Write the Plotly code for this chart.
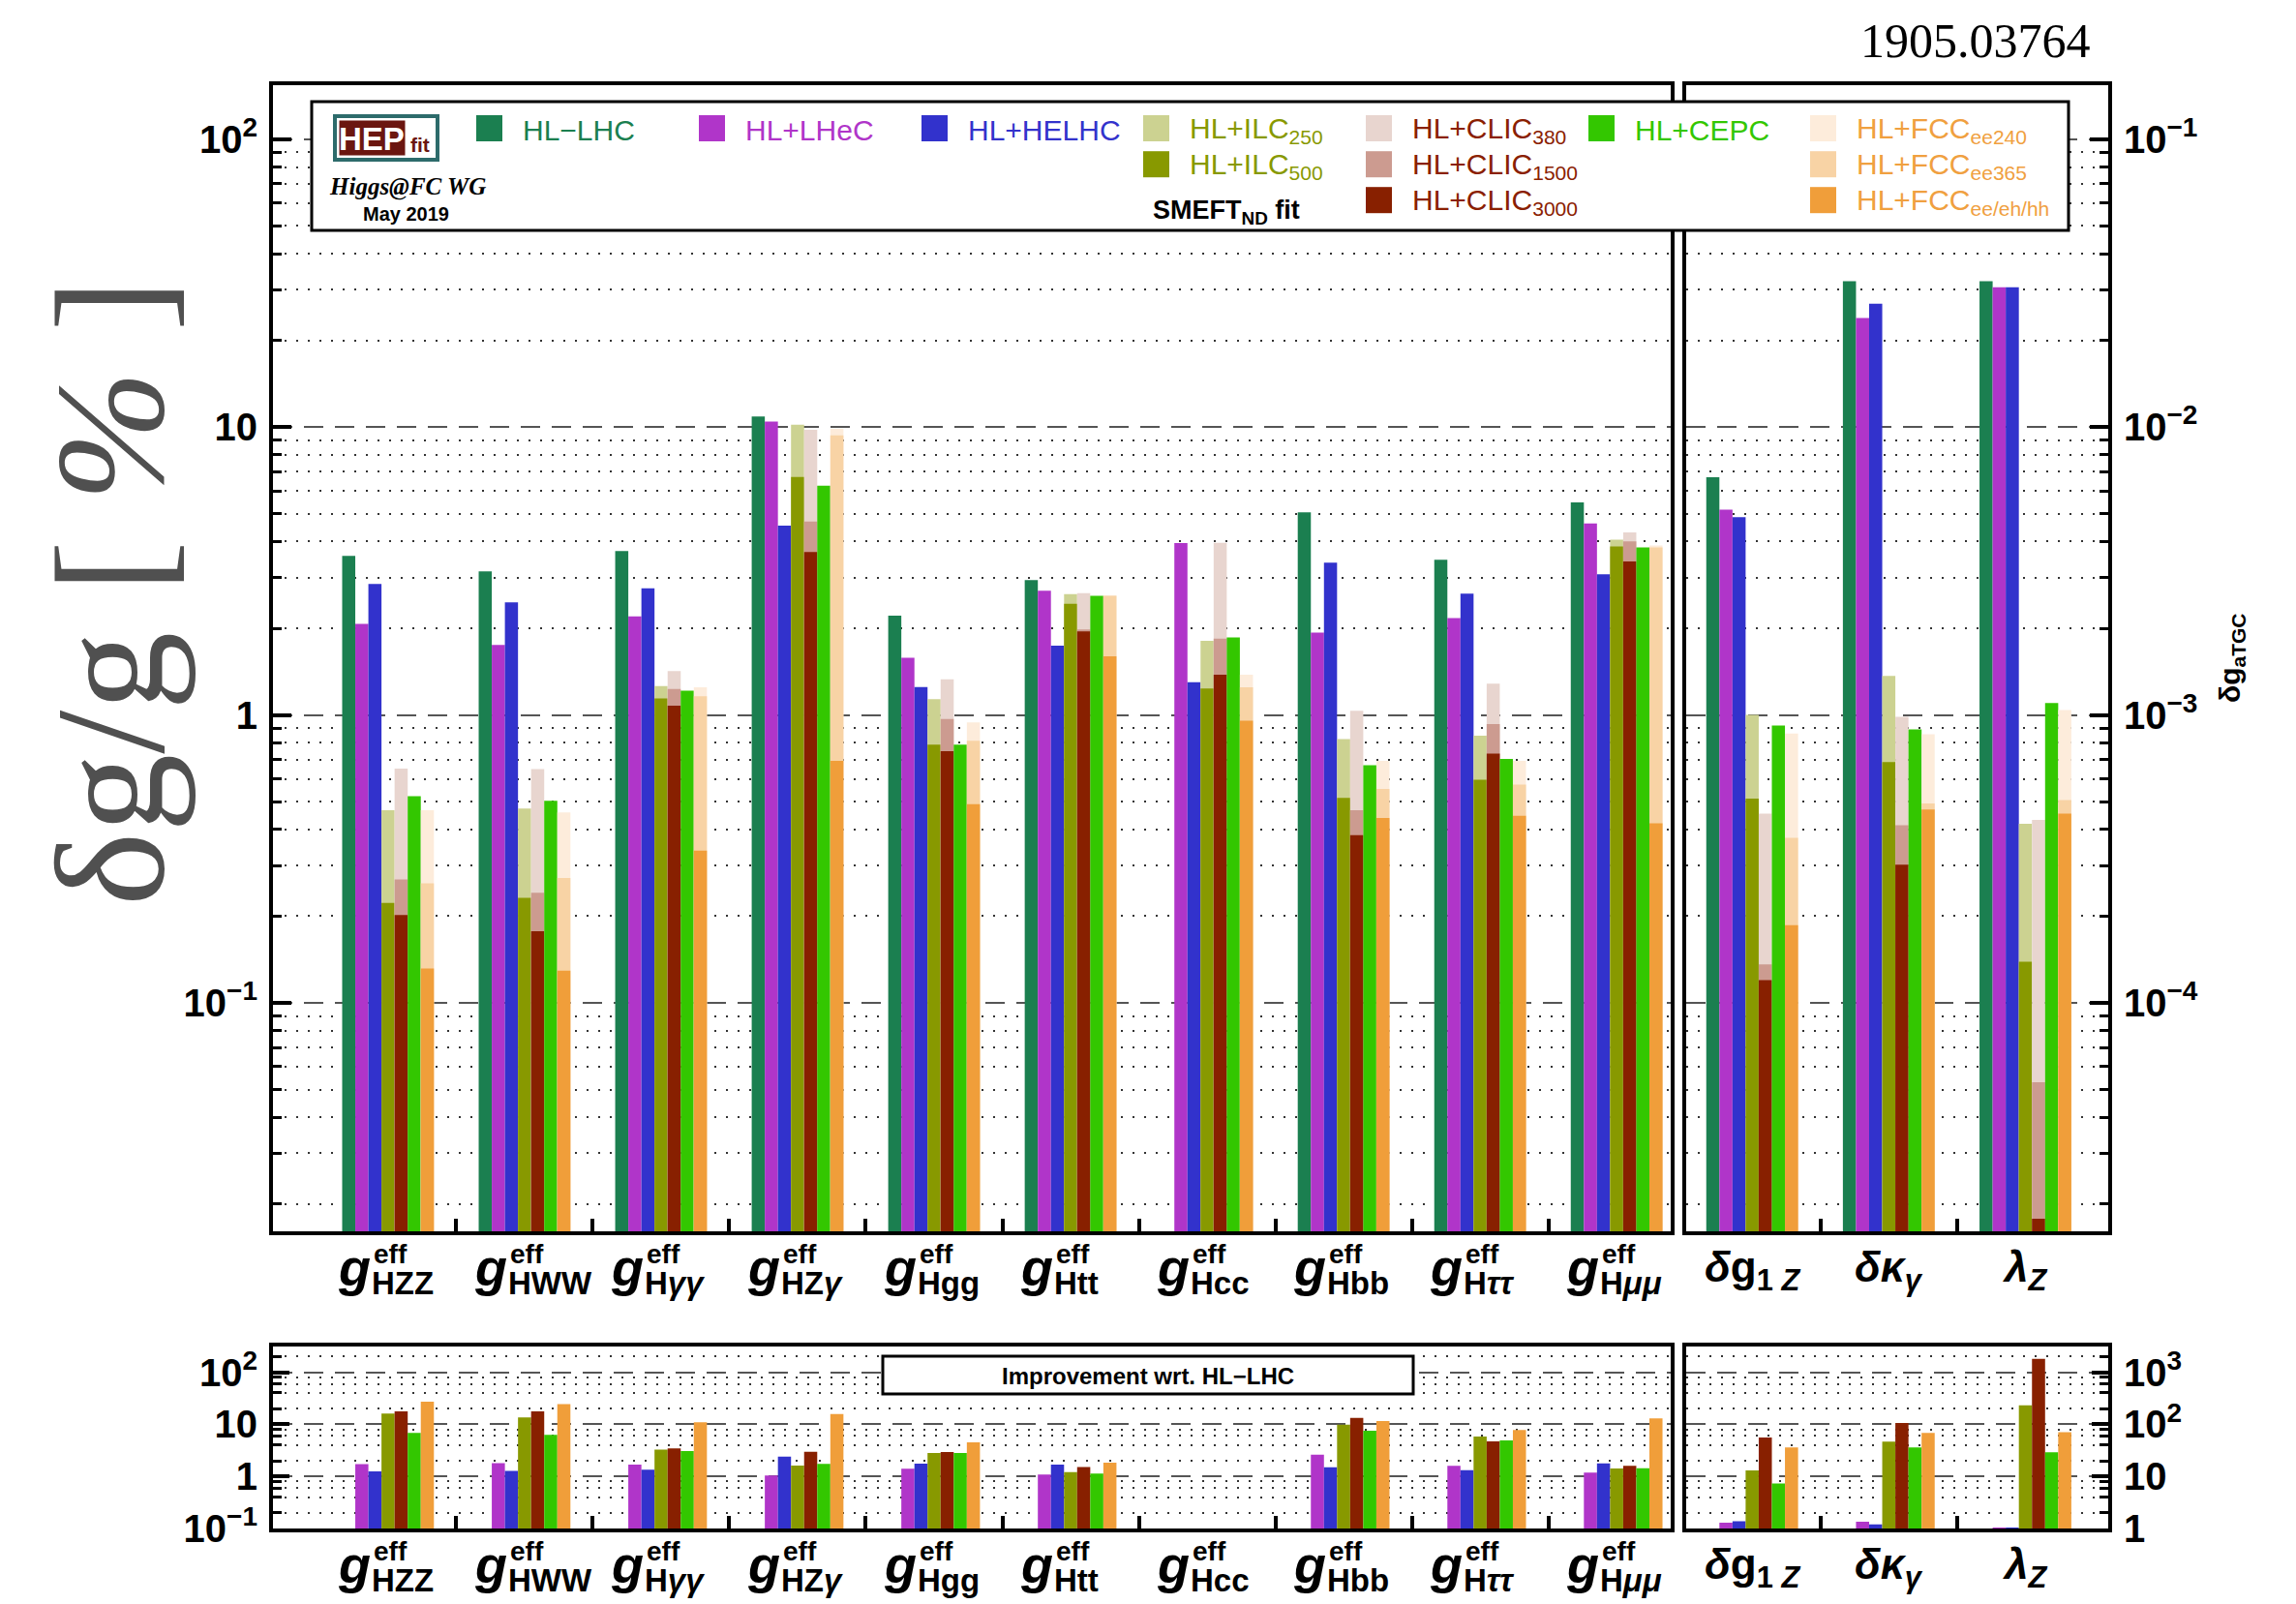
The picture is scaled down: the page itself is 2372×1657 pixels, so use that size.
import plotly.graph_objects as go

W, H = 2372, 1657

# ---------------------------------------------------------------- data
coupling_sub = ["HZZ", "HWW", "H<i>γγ</i>", "HZ<i>γ</i>", "Hgg", "Htt",
                "Hcc", "Hbb", "H<i>ττ</i>", "H<i>μμ</i>"]
tgc_labels = ["<b><i>δ</i>g<sub>1 <i>Z</i></sub></b>",
              "<b><i>δκ<sub>γ</sub></i></b>",
              "<b><i>λ<sub>Z</sub></i></b>"]

# relative precision on the effective Higgs couplings, in %
hl_lhc   = [3.57, 3.15, 3.71, 10.88, 2.21, 2.94, None, 5.05, 3.46, 5.47]
hl_lhec  = [2.07, 1.75, 2.20, 10.45, 1.58, 2.70, 3.95, 1.93, 2.17, 4.62]
hl_helhc = [2.85, 2.46, 2.75, 4.54, 1.25, 1.74, 1.30, 3.38, 2.64, 3.08]
ilc250   = [0.467, 0.473, 1.26, 10.18, 1.135, 2.63, 1.81, 0.824, 0.847, 4.06]
ilc500   = [0.2225, 0.2315, 1.14, 6.71, 0.788, 2.43, 1.235, 0.515, 0.596, 3.85]
clic380  = [0.651, 0.648, 1.42, 9.78, 1.33, 2.65, 3.96, 1.034, 1.285, 4.30]
clic1500 = [0.268, 0.241, 1.23, 4.70, 0.967, 1.98, 1.84, 0.467, 0.929, 4.01]
clic3000 = [0.2017, 0.1774, 1.076, 3.68, 0.748, 1.95, 1.38, 0.382, 0.734, 3.415]
cepc     = [0.522, 0.5035, 1.213, 6.25, 0.788, 2.59, 1.858, 0.669, 0.703, 3.815]
fcc240   = [0.467, 0.4586, 1.246, 9.87, 0.942, 2.60, 1.38, 0.693, 0.693, 3.88]
fcc365   = [0.260, 0.2716, 1.16, 9.36, 0.813, 2.59, 1.246, 0.553, 0.573, 3.82]
fcc_all  = [0.1317, 0.1294, 0.3377, 0.693, 0.49, 1.598, 0.954, 0.4387, 0.4467, 0.42]

# absolute precision on the anomalous triple gauge couplings
tgc_hl_lhc   = [6.69e-3, 3.21e-2, 3.21e-2]
tgc_lhec     = [5.16e-3, 2.39e-2, 3.06e-2]
tgc_helhc    = [4.86e-3, 2.68e-2, 3.06e-2]
tgc_ilc250   = [1.00e-3, 1.366e-3, 4.19e-4]
tgc_ilc500   = [5.12e-4, 6.86e-4, 1.39e-4]
tgc_clic380  = [4.54e-4, 9.84e-4, 4.32e-4]
tgc_clic1500 = [1.36e-4, 4.14e-4, 5.30e-5]
tgc_clic3000 = [1.20e-4, 3.02e-4, 1.78e-5]
tgc_cepc     = [9.19e-4, 8.90e-4, 1.10e-3]
tgc_fcc240   = [8.61e-4, 8.57e-4, 1.04e-3]
tgc_fcc365   = [3.74e-4, 4.93e-4, 5.06e-4]
tgc_fcc_all  = [1.86e-4, 4.69e-4, 4.54e-4]

# tick labels
main_tickvals = [0.1, 1, 10, 100]
main_ticktext = ["10<sup>−1</sup>", "1", "10", "10<sup>2</sup>"]
tgc_tickvals = [1e-4, 1e-3, 1e-2, 1e-1]
tgc_ticktext = ["10<sup>−4</sup>", "10<sup>−3</sup>", "10<sup>−2</sup>", "10<sup>−1</sup>"]
ratio_tickvals = [0.1, 1, 10, 100]
ratio_ticktext = ["10<sup>−1</sup>", "1", "10", "10<sup>2</sup>"]
ratio_tgc_tickvals = [1, 10, 100, 1000]
ratio_tgc_ticktext = ["1", "10", "10<sup>2</sup>", "10<sup>3</sup>"]

# ---------------------------------------------------------------- styles
COL = {
    "hl_lhc": "#1b7f50", "lhec": "#b035c9", "helhc": "#3232cc",
    "ilc250": "#ccd291", "ilc500": "#889900",
    "clic380": "#e8d5cf", "clic1500": "#cc9b90", "clic3000": "#882000",
    "cepc": "#33c700",
    "fcc240": "#fdecdb", "fcc365": "#f8d3a5", "fcc_all": "#f09e3a",
}
TXT = {"hl_lhc": "#1b7f50", "lhec": "#b035c9", "helhc": "#3333cc",
       "ilc": "#889900", "clic": "#8a2000", "cepc": "#33c700", "fcc": "#f0a040"}

# (key, slot within a group, coupling values, tgc values) in drawing order
series = [
    ("hl_lhc", 0, hl_lhc, tgc_hl_lhc),
    ("lhec", 1, hl_lhec, tgc_lhec),
    ("helhc", 2, hl_helhc, tgc_helhc),
    ("ilc250", 3, ilc250, tgc_ilc250),
    ("ilc500", 3, ilc500, tgc_ilc500),
    ("clic380", 4, clic380, tgc_clic380),
    ("clic1500", 4, clic1500, tgc_clic1500),
    ("clic3000", 4, clic3000, tgc_clic3000),
    ("cepc", 5, cepc, tgc_cepc),
    ("fcc240", 6, fcc240, tgc_fcc240),
    ("fcc365", 6, fcc365, tgc_fcc365),
    ("fcc_all", 6, fcc_all, tgc_fcc_all),
]
ratio_keys = ["lhec", "helhc", "ilc500", "clic3000", "cepc", "fcc_all"]

BW = 0.096  # bar width in group units


def px_x(p):
    return p / W


def px_y(p):
    return 1 - p / H


def ratio(ref, vals):
    return [r / v if (r is not None and v is not None) else None
            for r, v in zip(ref, vals)]


fig = go.Figure()
n_c = len(coupling_sub)
n_t = len(tgc_labels)

for key, slot, vals, tvals in series:
    common = dict(width=BW, offset=(slot - 3.5) * BW, showlegend=False,
                  marker=dict(color=COL[key], line=dict(width=0)))
    fig.add_trace(go.Bar(x=list(range(n_c)), y=vals, xaxis="x", yaxis="y", **common))
    fig.add_trace(go.Bar(x=list(range(n_t)), y=tvals, xaxis="x2", yaxis="y2", **common))
    if key in ratio_keys:
        fig.add_trace(go.Bar(x=list(range(n_c)), y=ratio(hl_lhc, vals),
                             xaxis="x3", yaxis="y3", **common))
        fig.add_trace(go.Bar(x=list(range(n_t)), y=ratio(tgc_hl_lhc, tvals),
                             xaxis="x4", yaxis="y4", **common))


def minor_vals(lo, hi, mults):
    return [m * 10.0 ** e for e in range(lo, hi + 1) for m in mults]


def xaxis_cfg(dom, rng, anchor, n):
    return dict(domain=dom, range=rng, anchor=anchor, showgrid=False, zeroline=False,
                automargin=False,
                showline=True, linewidth=4, linecolor="black", mirror=True,
                ticks="inside", tickmode="array",
                tickvals=[i + 0.5 for i in range(n - 1)], ticklen=13, tickwidth=4,
                tickcolor="black", showticklabels=False)


def yaxis_cfg(dom, rng, anchor, side, tv, tt, mlo, mhi, mults, big):
    return dict(domain=dom, range=rng, anchor=anchor, type="log", side=side,
                automargin=False,
                showline=True, linewidth=4, linecolor="black", mirror=True,
                ticks="inside", tickmode="array", tickvals=tv, ticktext=tt,
                ticklen=19 if big else 17, tickwidth=4, tickcolor="black",
                tickfont=dict(family="Liberation Sans", size=40, color="black",
                              weight="bold"),
                ticklabelstandoff=4,
                showgrid=True, gridcolor="#555555", gridwidth=1.5,
                griddash="20px,12px", zeroline=False,
                minor=dict(tickmode="array", tickvals=minor_vals(mlo, mhi, mults),
                           ticks="inside", ticklen=9, tickwidth=3, tickcolor="black",
                           showgrid=True, gridcolor="#333333", gridwidth=1.5,
                           griddash="2px,10px"))


top_dom = [px_y(1272), px_y(88)]
bot_dom = [px_y(1579), px_y(1391)]
left_dom = [px_x(282), px_x(1726)]
right_dom = [px_x(1742), px_x(2178)]
ALL = list(range(2, 10))
EVEN = [2, 4, 6, 8]

fig.update_layout(
    width=W, height=H, autosize=False, margin=dict(l=0, r=0, t=0, b=0, pad=0),
    paper_bgcolor="white", plot_bgcolor="white", barmode="overlay",
    xaxis=xaxis_cfg(left_dom, [-0.843, 9.396], "y", n_c),
    xaxis2=xaxis_cfg(right_dom, [-0.483, 2.606], "y2", n_t),
    xaxis3=xaxis_cfg(left_dom, [-0.843, 9.396], "y3", n_c),
    xaxis4=xaxis_cfg(right_dom, [-0.483, 2.606], "y4", n_t),
    yaxis=yaxis_cfg(top_dom, [-1.7936, 2.1872], "x", "left",
                    main_tickvals, main_ticktext, -2, 2, ALL, True),
    yaxis2=yaxis_cfg(top_dom, [-4.7936, -0.8128], "x2", "right",
                     tgc_tickvals, tgc_ticktext, -5, -1, ALL, True),
    yaxis3=yaxis_cfg(bot_dom, [-1.0, 2.494], "x3", "left",
                     ratio_tickvals, ratio_ticktext, -1, 2, EVEN, False),
    yaxis4=yaxis_cfg(bot_dom, [0.0, 3.494], "x4", "right",
                     ratio_tgc_tickvals, ratio_tgc_ticktext, 0, 3, EVEN, False),
)

ann = []
shapes = []
SANS = "Liberation Sans"
SERIF = "Liberation Serif"


def add_text(x, y, text, size, color="black", family=SANS, xanchor="center",
             yanchor="middle", angle=0):
    ann.append(dict(x=px_x(x), y=px_y(y), xref="paper", yref="paper", text=text,
                    showarrow=False, xanchor=xanchor, yanchor=yanchor, textangle=angle,
                    font=dict(family=family, size=size, color=color)))


# coupling labels under the panels
for xref, ybase in (("x", 1272), ("x3", 1579)):
    for i, sub in enumerate(coupling_sub):
        base = dict(x=i, xref=xref, yref="paper", showarrow=False, yanchor="middle",
                    borderpad=0)
        ann.append(dict(base, y=px_y(ybase + 37), text="<b><i>g</i></b>", xanchor="right",
                        xshift=-17, font=dict(family=SANS, size=54, color="black")))
        ann.append(dict(base, y=px_y(ybase + 23), text="<b>eff</b>", xanchor="left",
                        xshift=-16, font=dict(family=SANS, size=28, color="black")))
        ann.append(dict(base, y=px_y(ybase + 53), text="<b>" + sub + "</b>", xanchor="left",
                        xshift=-18, font=dict(family=SANS, size=33, color="black")))
for xref, ybase in (("x2", 1272), ("x4", 1579)):
    for i, lab in enumerate(tgc_labels):
        ann.append(dict(x=i, xref=xref, y=px_y(ybase + 40), yref="paper", text=lab,
                        showarrow=False, xanchor="center", yanchor="middle",
                        font=dict(family=SANS, size=44, color="black")))

# axis titles and header
add_text(114, 612, "δg/g [ <i>%</i> ]", 162, color="#505050", family=SERIF, angle=-90)
add_text(2305, 680, "<b>δg<sub>aTGC</sub></b>", 30, angle=-90)
add_text(2041, 42, "1905.03764", 50, family=SERIF)

# legend box
shapes.append(dict(type="rect", xref="paper", yref="paper", x0=px_x(322), x1=px_x(2137),
                   y0=px_y(238), y1=px_y(105), line=dict(color="black", width=3),
                   fillcolor="white", layer="above"))
# HEPfit logo
shapes.append(dict(type="rect", xref="paper", yref="paper", x0=px_x(346), x1=px_x(452),
                   y0=px_y(165), y1=px_y(120), line=dict(color="#2d6b6b", width=4),
                   fillcolor="white", layer="above"))
shapes.append(dict(type="rect", xref="paper", yref="paper", x0=px_x(350), x1=px_x(419),
                   y0=px_y(161), y1=px_y(124), line=dict(color="white", width=1),
                   fillcolor="#6b1610", layer="above"))
add_text(384.5, 143, "<b>HEP</b>", 33, color="white")
add_text(434, 150, "<b>fit</b>", 21, color="#6b1610")
add_text(421, 193, "<b><i>Higgs@FC WG</i></b>", 25, family=SERIF)
add_text(419, 221, "<b>May 2019</b>", 20)
add_text(1267, 219, "<b>SMEFT<sub>ND</sub> fit</b>", 27)

legend_items = [
    (492, 132.5, "hl_lhc", "HL−LHC", "hl_lhc"),
    (722, 132.5, "lhec", "HL+LHeC", "lhec"),
    (952, 132.5, "helhc", "HL+HELHC", "helhc"),
    (1181, 132.5, "ilc250", "HL+ILC<sub>250</sub>", "ilc"),
    (1181, 169.7, "ilc500", "HL+ILC<sub>500</sub>", "ilc"),
    (1411, 132.5, "clic380", "HL+CLIC<sub>380</sub>", "clic"),
    (1411, 169.7, "clic1500", "HL+CLIC<sub>1500</sub>", "clic"),
    (1411, 206.7, "clic3000", "HL+CLIC<sub>3000</sub>", "clic"),
    (1641, 132.5, "cepc", "HL+CEPC", "cepc"),
    (1870, 132.5, "fcc240", "HL+FCC<sub>ee240</sub>", "fcc"),
    (1870, 169.7, "fcc365", "HL+FCC<sub>ee365</sub>", "fcc"),
    (1870, 206.7, "fcc_all", "HL+FCC<sub>ee/eh/hh</sub>", "fcc"),
]
for x0, yc, ckey, label, tkey in legend_items:
    shapes.append(dict(type="rect", xref="paper", yref="paper", x0=px_x(x0),
                       x1=px_x(x0 + 27), y0=px_y(yc + 13.5), y1=px_y(yc - 13.5),
                       line=dict(width=0), fillcolor=COL[ckey], layer="above"))
    add_text(x0 + 46, yc + 2, label, 30, color=TXT[tkey], xanchor="left")

# ratio panel caption
shapes.append(dict(type="rect", xref="paper", yref="paper", x0=px_x(912), x1=px_x(1460),
                   y0=px_y(1440), y1=px_y(1401), line=dict(color="black", width=3),
                   fillcolor="white", layer="above"))
add_text(1186, 1421, "<b>Improvement wrt. HL−LHC</b>", 24)

fig.update_layout(annotations=ann, shapes=shapes)
fig.write_html("out.html")
